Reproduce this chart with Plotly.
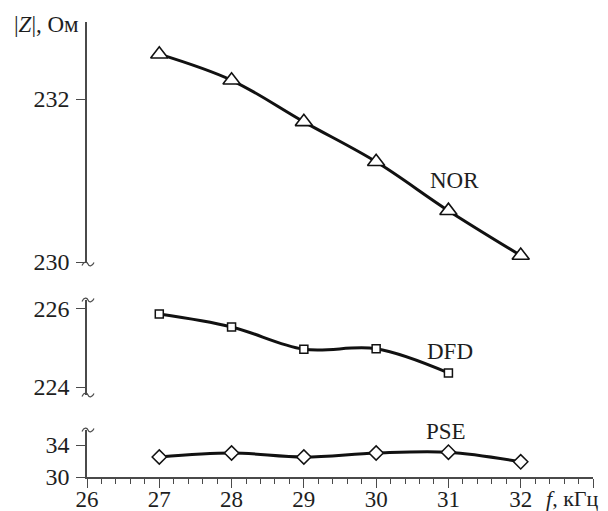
import plotly.graph_objects as go

# ---- data ----
freq = [27, 28, 29, 30, 31, 32]
nor = [232.55, 232.23, 231.72, 231.23, 230.63, 230.08]
dfd_freq = [27, 28, 29, 30, 31]
dfd = [225.87, 225.54, 224.97, 224.98, 224.36]
pse = [32.5, 33.0, 32.5, 33.0, 33.1, 31.9]

x_ticks = [26, 27, 28, 29, 30, 31, 32, 33]
x_ticktext = ["26", "27", "28", "29", "30", "31", "32", ""]
top_ticks = [230, 232]
mid_ticks = [224, 226]
bot_ticks = [30, 34]

# ---- layout constants (screen pixels; page body has an 8px margin) ----
OFF = 8
W, H = 608 - OFF, 511 - OFF
X0, X1 = 87, 593      # plot left / right on screen
Y0, Y1 = 22, 477      # plot top / bottom on screen
L, R = X0 - OFF, W - (X1 - OFF)
T, B = Y0 - OFF, H - (Y1 - OFF)
PW, PH = X1 - X0, Y1 - Y0
FONT = "Liberation Serif"
AX = "#4a4a4a"
TXT = "#1e1e1e"


def px(xs):
    return (xs - X0) / PW


def py(ys):
    return (Y1 - ys) / PH


fig = go.Figure()

line_style = dict(color="#111111", width=3, shape="spline", smoothing=1)

fig.add_trace(go.Scatter(x=freq, y=nor, mode="lines+markers", yaxis="y",
                         line=line_style,
                         marker=dict(symbol="triangle-up", size=15, color="white",
                                     line=dict(color="#111111", width=1.6)),
                         showlegend=False))
fig.add_trace(go.Scatter(x=dfd_freq, y=dfd, mode="lines+markers", yaxis="y2",
                         line=line_style,
                         marker=dict(symbol="square", size=8, color="white",
                                     line=dict(color="#111111", width=1.5)),
                         showlegend=False))
fig.add_trace(go.Scatter(x=freq, y=pse, mode="lines+markers", yaxis="y3",
                         line=line_style,
                         marker=dict(symbol="diamond", size=11, color="white",
                                     line=dict(color="#111111", width=1.5)),
                         showlegend=False))

tick_font = dict(family=FONT, size=24, color=TXT)

yax_common = dict(showline=True, linecolor=AX, linewidth=1.5, ticks="outside",
                  ticklen=9, tickcolor=AX, tickwidth=1.2, showgrid=False,
                  zeroline=False, tickfont=tick_font, anchor="x", tickmode="array",
                  automargin=False, ticklabelstandoff=2)

fig.update_layout(
    width=W, height=H,
    margin=dict(l=L, r=R, t=T, b=B, autoexpand=False),
    paper_bgcolor="white", plot_bgcolor="white",
    font=dict(family=FONT, size=24, color=TXT),
    xaxis=dict(range=[26, 33], anchor="y3", showline=True, linecolor=AX,
               linewidth=1.5, ticks="outside", ticklen=9, tickcolor=AX,
               tickwidth=1.2, showgrid=False, zeroline=False, automargin=False,
               tickmode="array", tickvals=x_ticks, ticktext=x_ticktext,
               tickfont=dict(family=FONT, size=23, color=TXT),
               ticklabelstandoff=-8,
               minor=dict(dtick=0.2, tick0=26, ticks="outside", ticklen=5,
                          tickcolor=AX, tickwidth=1.2, showgrid=False)),
    yaxis=dict(domain=[py(263), 1], range=[229.988, 232.945],
               tickvals=top_ticks, **yax_common),
    yaxis2=dict(domain=[py(395), py(300)], range=[223.795, 226.23],
                tickvals=mid_ticks, **yax_common),
    yaxis3=dict(domain=[0, py(430)], range=[30, 35.875],
                tickvals=bot_ticks, **yax_common),
)

# series labels
lab_font = dict(family=FONT, size=23, color=TXT)
fig.add_annotation(x=31.08, y=231.0, xref="x", yref="y", text="NOR",
                   showarrow=False, font=lab_font)
fig.add_annotation(x=31.02, y=224.9, xref="x", yref="y2", text="DFD",
                   showarrow=False, font=lab_font)
fig.add_annotation(x=30.96, y=35.75, xref="x", yref="y3", text="PSE",
                   showarrow=False, font=lab_font)

# axis titles
fig.add_annotation(x=px(81), y=py(25), xref="paper", yref="paper",
                   text="|<i>Z</i>|, Ом", showarrow=False, xanchor="right",
                   yanchor="middle", font=dict(family=FONT, size=23, color=TXT))
fig.add_annotation(x=px(545), y=py(498), xref="paper", yref="paper",
                   text="<i>f</i>, кГц", showarrow=False, xanchor="left",
                   yanchor="middle", borderpad=0,
                   font=dict(family=FONT, size=22, color=TXT))


# axis break marks (tildes)
def tilde(cx, cy):
    pts = [(cx - 6, cy + 1.5), (cx - 4, cy - 3), (cx - 1, cy - 2.5), (cx, cy),
           (cx + 1, cy + 2.5), (cx + 4, cy + 3), (cx + 6, cy - 1.5)]
    p = [(px(a), py(b)) for a, b in pts]
    return (f"M {p[0][0]},{p[0][1]} C {p[1][0]},{p[1][1]} {p[2][0]},{p[2][1]} {p[3][0]},{p[3][1]} "
            f"C {p[4][0]},{p[4][1]} {p[5][0]},{p[5][1]} {p[6][0]},{p[6][1]}")


for cy in (264, 300, 395, 430):
    fig.add_shape(type="path", path=tilde(88, cy), xref="paper", yref="paper",
                  line=dict(color=AX, width=1.2))

fig.write_html("out.html")
